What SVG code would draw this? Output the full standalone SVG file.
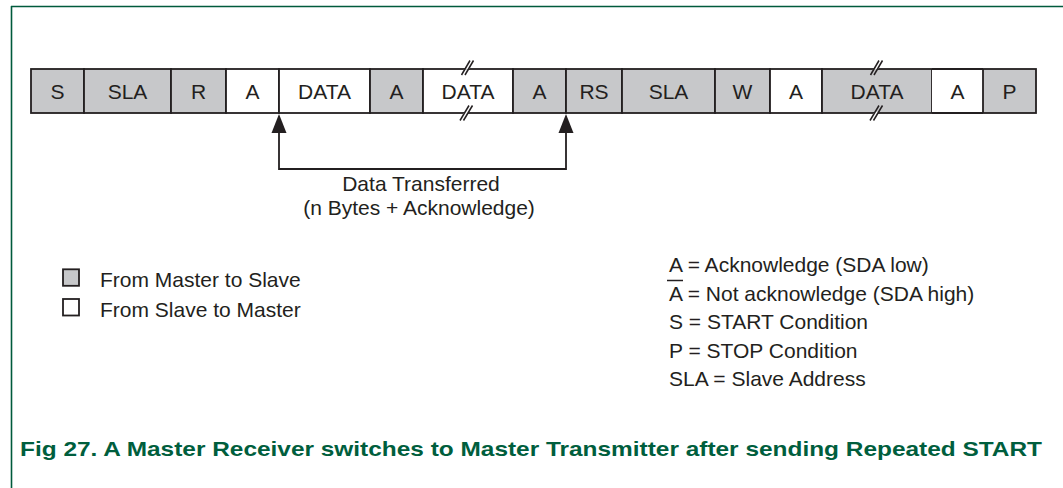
<svg xmlns="http://www.w3.org/2000/svg" width="1063" height="488" viewBox="0 0 1063 488">
<style>
.m{fill:#c7c8ca;stroke:#231f20;stroke-width:1.8}
.s{fill:#ffffff;stroke:#231f20;stroke-width:1.8}
.t{font-family:"Liberation Sans",Arial,sans-serif;font-size:21px;fill:#231f20}
.c{text-anchor:middle}
.ln{fill:none;stroke:#231f20;stroke-width:1.8}
.brk{stroke:#231f20;stroke-width:1.5;fill:none}
.cap{font-family:"Liberation Sans",Arial,sans-serif;font-size:21px;font-weight:bold;fill:#005e3d}
</style>
<rect width="1063" height="488" fill="#ffffff"/>
<g id="frame">
<line x1="11" y1="6.5" x2="1063" y2="6.5" stroke="#005a3c" stroke-width="1.6"/>
<line x1="11.5" y1="6" x2="11.5" y2="488" stroke="#005a3c" stroke-width="1.6"/>
</g>
<g id="cell-S"><rect class="m" x="31" y="69" width="53" height="44"/><text class="t c" x="57.5" y="99">S</text></g>
<g id="cell-SLA1"><rect class="m" x="84" y="69" width="87" height="44"/><text class="t c" x="127.5" y="99">SLA</text></g>
<g id="cell-R"><rect class="m" x="171" y="69" width="55" height="44"/><text class="t c" x="198.5" y="99">R</text></g>
<g id="cell-A1"><rect class="s" x="226" y="69" width="53" height="44"/><text class="t c" x="252.5" y="99">A</text></g>
<g id="cell-DATA1"><rect class="s" x="279" y="69" width="91" height="44"/><text class="t c" x="324.5" y="99">DATA</text></g>
<g id="cell-A2"><rect class="m" x="370" y="69" width="53" height="44"/><text class="t c" x="396.5" y="99">A</text></g>
<g id="cell-DATA2"><rect class="s" x="423" y="69" width="90" height="44"/><text class="t c" x="468" y="99">DATA</text></g>
<g id="cell-A3"><rect class="m" x="513" y="69" width="53" height="44"/><text class="t c" x="539.5" y="99">A</text></g>
<g id="cell-RS"><rect class="m" x="566" y="69" width="56" height="44"/><text class="t c" x="594" y="99">RS</text></g>
<g id="cell-SLA2"><rect class="m" x="622" y="69" width="93" height="44"/><text class="t c" x="668.5" y="99">SLA</text></g>
<g id="cell-W"><rect class="m" x="715" y="69" width="55" height="44"/><text class="t c" x="742.5" y="99">W</text></g>
<g id="cell-A4"><rect class="s" x="770" y="69" width="52" height="44"/><text class="t c" x="796" y="99">A</text></g>
<g id="cell-DATA3"><rect class="m" x="822" y="69" width="110" height="44"/><text class="t c" x="877" y="99">DATA</text></g>
<g id="cell-A5"><rect fill="#ffffff" x="932" y="69.9" width="51" height="42.2"/><line class="ln" x1="932" y1="69" x2="983" y2="69"/><line class="ln" x1="932" y1="113" x2="983" y2="113"/><text class="t c" x="957.5" y="99">A</text></g>
<g id="cell-P"><rect class="m" x="983" y="69" width="53" height="44"/><text class="t c" x="1009.5" y="99">P</text></g>
<g id="breaks">
<polygon points="463.5,69.8 467.5,69.8 470.5,67.8 466.5,67.8" fill="#ffffff"/>
<line class="brk" x1="461.5" y1="75" x2="470" y2="60.5"/><line class="brk" x1="465" y1="75" x2="473.5" y2="60.5"/>
<polygon points="462.5,114.2 466.5,114.2 469.5,111.8 465.5,111.8" fill="#ffffff"/>
<line class="brk" x1="460" y1="120.5" x2="469" y2="105.5"/><line class="brk" x1="463.5" y1="120.5" x2="472.5" y2="105.5"/>
<polygon points="872.5,69.8 876.5,69.8 879.5,67.8 875.5,67.8" fill="#ffffff"/>
<line class="brk" x1="870.5" y1="75" x2="879" y2="60.5"/><line class="brk" x1="874" y1="75" x2="882.5" y2="60.5"/>
<polygon points="872.5,114.2 876.5,114.2 879.5,111.8 875.5,111.8" fill="#ffffff"/>
<line class="brk" x1="870" y1="120.5" x2="879" y2="105.5"/><line class="brk" x1="873.5" y1="120.5" x2="882.5" y2="105.5"/>
</g>
<g id="connectors">
<polyline class="ln" points="279,132 279,169 566,169 566,132"/>
<polygon points="279,114 271.5,133 286.5,133" fill="#231f20"/>
<polygon points="566,114 558.5,133 573.5,133" fill="#231f20"/>
</g>
<g id="label-transfer">
<text class="t c" x="421" y="191">Data Transferred</text>
<text class="t c" x="419" y="215">(n Bytes + Acknowledge)</text>
</g>
<g id="legend-direction">
<rect class="m" x="63" y="269.3" width="16" height="16.5"/>
<text class="t" x="100" y="287">From Master to Slave</text>
<rect class="s" x="63" y="299" width="16" height="16.5"/>
<text class="t" x="100" y="316.5">From Slave to Master</text>
</g>
<g id="legend-abbrev">
<text class="t" x="669" y="272">A = Acknowledge (SDA low)</text>
<line x1="667" y1="280.5" x2="683" y2="280.5" stroke="#231f20" stroke-width="1.5"/>
<text class="t" x="669" y="300.5">A = Not acknowledge (SDA high)</text>
<text class="t" x="669" y="329">S = START Condition</text>
<text class="t" x="669" y="357.5">P = STOP Condition</text>
<text class="t" x="669" y="386">SLA = Slave Address</text>
</g>
<g id="caption">
<text class="cap" x="20" y="456" textLength="1022" lengthAdjust="spacingAndGlyphs">Fig 27. A Master Receiver switches to Master Transmitter after sending Repeated START</text>
</g>
</svg>
